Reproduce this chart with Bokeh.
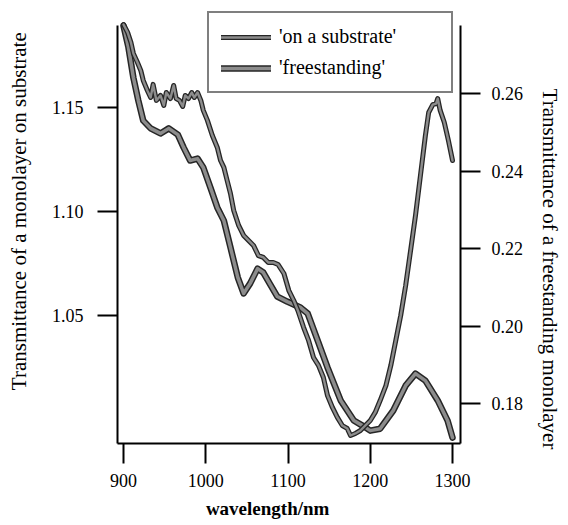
from bokeh.plotting import figure
from bokeh.models import (Range1d, LinearAxis, FixedTicker, PrintfTickFormatter,
                          Legend, LegendItem)
from bokeh.embed import file_html
from bokeh.resources import INLINE

# ---- data ----
wl_substrate = [900, 905, 909, 912, 917, 921, 924, 929, 933, 936, 940, 945, 949, 952,
                957, 961, 964, 968, 972, 975, 979, 983, 986, 990, 994, 997, 1002, 1008,
                1014, 1018, 1022, 1026, 1030, 1034, 1040, 1046, 1052, 1058, 1064, 1070,
                1076, 1082, 1088, 1095, 1101, 1107, 1112, 1119, 1125, 1131, 1137, 1143,
                1148, 1154, 1160, 1166, 1172, 1176, 1182, 1188, 1194, 1200, 1206, 1212,
                1219, 1225, 1231, 1237, 1243, 1249, 1255, 1261, 1267, 1271, 1276, 1280,
                1282, 1285, 1290, 1295, 1300]
t_substrate = [1.1899, 1.1861, 1.1813, 1.1760, 1.1716, 1.1678, 1.1630, 1.1582, 1.1548,
               1.1611, 1.1534, 1.1558, 1.1510, 1.1572, 1.1543, 1.1606, 1.1543, 1.1534,
               1.1505, 1.1558, 1.1543, 1.1572, 1.1548, 1.1572, 1.1534, 1.1486, 1.1438,
               1.1365, 1.1308, 1.1245, 1.1212, 1.1149, 1.1087, 1.1005, 1.0933, 1.0885,
               1.0861, 1.0837, 1.0788, 1.0779, 1.0755, 1.0755, 1.0745, 1.0702, 1.0620,
               1.0572, 1.0524, 1.0442, 1.0380, 1.0298, 1.0260, 1.0202, 1.0115, 1.0058,
               1.0010, 0.9971, 0.9957, 0.9923, 0.9933, 0.9947, 0.9971, 0.9995, 1.0034,
               1.0091, 1.0163, 1.0260, 1.0380, 1.0500, 1.0644, 1.0812, 1.0981, 1.1173,
               1.1365, 1.1476, 1.1514, 1.1519, 1.1543, 1.1486, 1.1428, 1.1341, 1.1245]

wl_free = [900, 906, 912, 918, 924, 933, 945, 955, 966, 973, 981, 990, 997, 1006, 1014,
           1022, 1030, 1039, 1046, 1054, 1063, 1070, 1079, 1087, 1099, 1115, 1124, 1136,
           1148, 1164, 1180, 1192, 1200, 1212, 1228, 1243, 1255, 1267, 1282, 1294, 1300]
t_free = [0.2775, 0.2719, 0.2641, 0.2582, 0.2530, 0.2510, 0.2497, 0.2510, 0.2494, 0.2461,
          0.2427, 0.2432, 0.2409, 0.2355, 0.2306, 0.2272, 0.2203, 0.2125, 0.2084, 0.2110,
          0.2148, 0.2138, 0.2105, 0.2076, 0.2063, 0.2048, 0.2032, 0.1963, 0.1893, 0.1808,
          0.1756, 0.1741, 0.1730, 0.1735, 0.1782, 0.1846, 0.1877, 0.1859, 0.1808, 0.1756,
          0.1712]

x_ticks = [900, 1000, 1100, 1200, 1300]
left_ticks = [1.05, 1.10, 1.15]
right_ticks = [0.18, 0.20, 0.22, 0.24, 0.26]
left_bounds = (0.98846, 1.18942)
right_bounds = (0.16968, 0.27755)

legend_labels = ["'on a substrate'", "'freestanding'"]
x_title = "wavelength/nm"
left_title = "Transmittance of a monolayer on substrate"
right_title = "Transmittance of a freestanding monolayer"

FONT = "Liberation Serif"
DARK = "#262626"
GREY = "#8c8c8c"
NB = "\u00a0"

# frame starts 10px from the top so the legend box is not clipped;
# axis lines are limited with bounds
p = figure(width=568, height=525, output_backend="svg", toolbar_location=None,
           x_range=Range1d(892.7, 1309.7), y_range=Range1d(0.98846, 1.19663),
           min_border_left=117, min_border_right=108, min_border_top=10,
           min_border_bottom=82, x_axis_location=None, y_axis_location=None)
p.extra_y_ranges = {"right": Range1d(0.16968, 0.28142)}
p.outline_line_color = None
p.xgrid.visible = False
p.ygrid.visible = False
p.background_fill_color = "white"
p.border_fill_color = "white"


def style_axis(ax, ticks, fmt, standoff, title, title_size, title_standoff, bold=False):
    ax.ticker = FixedTicker(ticks=ticks)
    ax.formatter = PrintfTickFormatter(format=fmt)
    ax.axis_line_color = "black"
    ax.axis_line_width = 2
    ax.major_tick_line_color = "black"
    ax.major_tick_line_width = 2
    ax.major_tick_out = 20
    ax.major_tick_in = 0
    ax.minor_tick_out = 0
    ax.minor_tick_in = 0
    ax.major_label_text_font = FONT
    ax.major_label_text_font_size = "18px"
    ax.major_label_text_color = "black"
    ax.major_label_standoff = standoff
    ax.axis_label = title
    ax.axis_label_text_font = FONT
    ax.axis_label_text_font_size = title_size
    ax.axis_label_text_font_style = "bold" if bold else "normal"
    ax.axis_label_text_color = "black"
    ax.axis_label_standoff = title_standoff


xa = LinearAxis()
style_axis(xa, x_ticks, "%d", 10, x_title + NB * 9, "19px", 8, bold=True)
p.add_layout(xa, "below")

ya = LinearAxis(bounds=left_bounds)
style_axis(ya, left_ticks, "%.2f", 14, NB * 6 + left_title, "21px", 18)
p.add_layout(ya, "left")

ya2 = LinearAxis(y_range_name="right", bounds=right_bounds)
style_axis(ya2, right_ticks, "%.2f", 11, NB * 16 + right_title, "21px", 12)
p.add_layout(ya2, "right")

# curves: dark outline with grey core
rb1 = p.line(wl_free, t_free, y_range_name="right", line_color=DARK, line_width=6.5,
             line_join="round", line_cap="round")
rg1 = p.line(wl_free, t_free, y_range_name="right", line_color=GREY, line_width=3.5,
             line_join="round", line_cap="round")
rb0 = p.line(wl_substrate, t_substrate, line_color=DARK, line_width=5,
             line_join="round", line_cap="round")
rg0 = p.line(wl_substrate, t_substrate, line_color=GREY, line_width=2.4,
             line_join="round", line_cap="round")

legend = Legend(items=[LegendItem(label=legend_labels[0], renderers=[rb0, rg0]),
                       LegendItem(label=legend_labels[1], renderers=[rb1, rg1])],
                location=(90, 350), orientation="vertical",
                border_line_color="black", border_line_width=2,
                background_fill_color="white", background_fill_alpha=1.0,
                padding=12, spacing=8, margin=0,
                glyph_width=50, glyph_height=22, label_height=22,
                label_width=160, label_standoff=8,
                label_text_font=FONT, label_text_font_size="20px",
                label_text_color="black")
p.add_layout(legend, "center")

open("out.html", "w").write(file_html(p, INLINE))
